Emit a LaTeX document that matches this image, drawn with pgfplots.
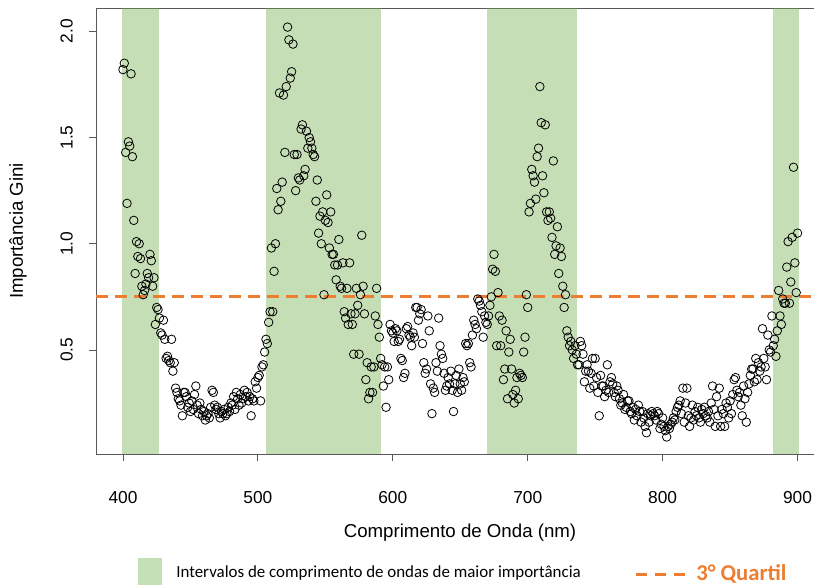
\documentclass[border=0pt]{standalone}
\usepackage{pgfplots}
\pgfplotsset{compat=1.18}
\usepackage{pgfplotstable}
\usepackage{fontspec}
\setmainfont{Liberation Sans}
\newfontfamily\calibri{Carlito}
\definecolor{bandgreen}{RGB}{112,173,71}
\definecolor{legendgreen}{RGB}{197,224,180}
\definecolor{qorange}{RGB}{237,125,49}

\pgfplotstableread{
x y
400 1.82
401 1.85
402 1.43
403 1.19
404 1.48
405 1.46
406 1.80
407 1.41
408 1.11
409 0.86
410 1.01
411 0.94
412 1.00
413 0.93
414 0.80
415 0.76
416 0.78
417 0.81
418 0.86
419 0.84
420 0.95
421 0.92
422 0.80
423 0.84
424 0.62
425 0.70
426 0.69
427 0.65
428 0.58
429 0.57
430 0.64
431 0.55
432 0.46
433 0.47
434 0.45
435 0.44
436 0.55
437 0.40
438 0.44
439 0.32
440 0.30
441 0.27
442 0.26
443 0.24
444 0.19
445 0.30
446 0.30
447 0.28
448 0.23
449 0.25
450 0.21
451 0.26
452 0.22
453 0.29
454 0.33
455 0.24
456 0.20
457 0.25
458 0.22
459 0.19
460 0.21
461 0.17
462 0.19
463 0.20
464 0.18
465 0.23
466 0.31
467 0.30
468 0.24
469 0.22
470 0.23
471 0.20
472 0.18
473 0.21
474 0.20
475 0.22
476 0.19
477 0.20
478 0.23
479 0.21
480 0.25
481 0.24
482 0.28
483 0.22
484 0.30
485 0.27
486 0.24
487 0.29
488 0.25
489 0.27
490 0.31
491 0.28
492 0.30
493 0.26
494 0.28
495 0.19
496 0.27
497 0.26
498 0.35
499 0.32
500 0.37
501 0.38
502 0.26
503 0.42
504 0.43
505 0.49
506 0.55
507 0.53
508 0.63
509 0.68
510 0.98
511 0.68
512 0.87
513 1.00
514 1.26
515 1.16
516 1.71
517 1.20
518 1.29
519 1.70
520 1.43
521 1.74
522 2.02
523 1.96
524 1.78
525 1.81
526 1.94
527 1.42
528 1.25
529 1.42
530 1.31
531 1.30
532 1.54
533 1.56
534 1.32
535 1.35
536 1.53
537 1.45
538 1.50
539 1.48
540 1.45
541 1.42
542 1.41
543 1.20
544 1.30
545 1.05
546 1.13
547 1.00
548 1.15
549 0.76
550 1.11
551 1.23
552 1.10
553 0.98
554 1.15
555 0.95
556 0.95
557 0.90
558 0.83
559 0.90
560 1.02
561 0.80
562 0.79
563 0.91
564 0.68
565 0.65
566 0.79
567 0.62
568 0.91
569 0.67
570 0.62
571 0.48
572 0.67
573 0.79
574 0.71
575 0.48
576 0.76
577 1.04
578 0.80
579 0.67
580 0.36
581 0.44
582 0.27
583 0.30
584 0.42
585 0.30
586 0.42
587 0.66
588 0.79
589 0.62
590 0.56
591 0.46
592 0.43
593 0.33
594 0.42
595 0.23
596 0.42
597 0.36
598 0.62
599 0.59
600 0.58
601 0.54
602 0.60
603 0.59
604 0.54
605 0.55
606 0.46
607 0.45
608 0.37
609 0.39
610 0.60
611 0.61
612 0.57
613 0.56
614 0.52
615 0.58
616 0.56
617 0.70
618 0.70
619 0.64
620 0.67
621 0.69
622 0.53
623 0.44
624 0.39
625 0.41
626 0.66
627 0.59
628 0.34
629 0.20
630 0.32
631 0.30
632 0.44
633 0.40
634 0.65
635 0.52
636 0.48
637 0.46
638 0.39
639 0.31
640 0.33
641 0.37
642 0.34
643 0.40
644 0.31
645 0.21
646 0.34
647 0.38
648 0.30
649 0.41
650 0.34
651 0.31
652 0.37
653 0.35
654 0.53
655 0.52
656 0.53
657 0.44
658 0.42
659 0.57
660 0.64
661 0.62
662 0.60
663 0.74
664 0.73
665 0.71
666 0.68
667 0.56
668 0.66
669 0.63
670 0.62
671 0.66
672 0.71
673 0.75
674 0.88
675 0.95
676 0.87
677 0.52
678 0.77
679 0.66
680 0.52
681 0.64
682 0.36
683 0.41
684 0.59
685 0.27
686 0.49
687 0.55
688 0.41
689 0.29
690 0.25
691 0.31
692 0.37
693 0.27
694 0.39
695 0.38
696 0.37
697 0.49
698 0.56
699 0.76
700 0.70
701 1.15
702 1.19
703 1.35
704 1.32
705 1.29
706 1.21
707 1.41
708 1.45
709 1.74
710 1.57
711 1.32
712 1.24
713 1.56
714 1.15
715 1.11
716 1.15
717 1.12
718 1.03
719 1.39
720 0.95
721 0.99
722 1.08
723 0.86
724 0.98
725 0.94
726 0.80
727 0.70
728 0.76
729 0.59
730 0.56
731 0.52
732 0.54
733 0.50
734 0.46
735 0.52
736 0.48
737 0.43
738 0.43
739 0.54
740 0.52
741 0.48
742 0.35
743 0.40
744 0.43
745 0.40
746 0.32
747 0.39
748 0.46
749 0.33
750 0.46
751 0.37
752 0.30
753 0.19
754 0.38
755 0.33
756 0.33
757 0.28
758 0.31
759 0.43
760 0.30
761 0.35
762 0.37
763 0.34
764 0.30
765 0.28
766 0.33
767 0.31
768 0.27
769 0.24
770 0.25
771 0.29
772 0.22
773 0.23
774 0.26
775 0.26
776 0.21
777 0.20
778 0.23
779 0.17
780 0.22
781 0.19
782 0.24
783 0.21
784 0.16
785 0.21
786 0.18
787 0.14
788 0.11
789 0.20
790 0.16
791 0.19
792 0.21
793 0.20
794 0.19
795 0.17
796 0.21
797 0.20
798 0.13
799 0.15
800 0.18
801 0.14
802 0.12
803 0.09
804 0.14
805 0.13
806 0.15
807 0.16
808 0.18
809 0.17
810 0.21
811 0.23
812 0.24
813 0.26
814 0.20
815 0.32
816 0.16
817 0.25
818 0.32
819 0.19
820 0.14
821 0.18
822 0.24
823 0.17
824 0.21
825 0.19
826 0.23
827 0.18
828 0.16
829 0.22
830 0.20
831 0.23
832 0.19
833 0.18
834 0.21
835 0.16
836 0.25
837 0.33
838 0.22
839 0.14
840 0.28
841 0.19
842 0.32
843 0.14
844 0.22
845 0.20
846 0.14
847 0.25
848 0.23
849 0.18
850 0.26
851 0.20
852 0.29
853 0.36
854 0.37
855 0.31
856 0.28
857 0.30
858 0.24
859 0.19
860 0.33
861 0.27
862 0.16
863 0.30
864 0.34
865 0.38
866 0.41
867 0.41
868 0.35
869 0.46
870 0.36
871 0.44
872 0.40
873 0.42
874 0.60
875 0.46
876 0.42
877 0.36
878 0.57
879 0.50
880 0.49
881 0.66
882 0.52
883 0.55
884 0.47
885 0.59
886 0.78
887 0.66
888 0.62
889 0.74
890 0.72
891 0.72
892 0.89
893 1.01
894 0.72
895 0.82
896 1.03
897 1.36
898 0.91
899 0.77
900 1.05
}\gini

\begin{document}
\begin{tikzpicture}
\begin{axis}[
  scale only axis, width=538.5pt, height=334.5pt,
  xmin=380, xmax=912.2, ymin=0.01, ymax=2.11,
  axis x line*=box, axis y line*=left,
  axis line style={-, black!65, line width=0.6pt},
  xtick={400,500,600,700,800,900},
  ytick={0.5,1,1.5,2}, yticklabels={0.5,1.0,1.5,2.0},
  xtick pos=lower, ytick pos=lower,
  tick align=outside, major tick length=5.25pt,
  tick style={black!65, line width=0.6pt},
  /pgf/number format/assume math mode=true,
  /pgf/number format/1000 sep={},
  tick label style={font=\fontsize{13pt}{15pt}\selectfont, inner sep=0pt},
  xticklabel style={anchor=north},
  yticklabel style={rotate=90, anchor=south},
  xticklabel shift=22.5pt,
  yticklabel shift=12pt,
  xlabel={Comprimento de Onda (nm)},
  ylabel={Importância Gini},
  label style={font=\fontsize{14pt}{17pt}\selectfont},
  xlabel style={at={(axis description cs:0.507,-0.177)}, anchor=center},
  ylabel style={at={(axis description cs:-0.1086,0.5)}, anchor=center},
]
\addplot[only marks, mark=o, mark size=3.2pt, mark options={line width=0.6pt, black}] table {\gini};
\fill[bandgreen, opacity=0.4] (axis cs:399.2,0.01) rectangle (axis cs:426.8,2.11);
\fill[bandgreen, opacity=0.4] (axis cs:506,0.01) rectangle (axis cs:591,2.11);
\fill[bandgreen, opacity=0.4] (axis cs:670,0.01) rectangle (axis cs:736.5,2.11);
\fill[bandgreen, opacity=0.4] (axis cs:882,0.01) rectangle (axis cs:901,2.11);
\draw[qorange, line width=2.25pt, dash pattern=on 9pt off 5.25pt] (axis cs:380,0.753) -- (axis cs:912.2,0.753);
\coordinate (O) at (rel axis cs:0,0);
\end{axis}
\begin{scope}[shift={(O)}, x=0.75pt, y=-0.75pt]
  \fill[legendgreen] (42,104) rectangle (66,131);
  \node[anchor=west, inner sep=0pt, font=\calibri\fontsize{12.7pt}{15pt}\selectfont] at (80,119) {Intervalos de comprimento de ondas de maior importância};
  \draw[qorange, line width=2.25pt, dash pattern=on 8.25pt off 6pt] (540,121) -- (592,121);
  \node[anchor=west, inner sep=0pt, text=qorange, font=\calibri\bfseries\fontsize{17pt}{20pt}\selectfont] at (600,120) {3° Quartil};
  \pgfresetboundingbox
  \path[use as bounding box] (-96,-454) rectangle (718,131);
\end{scope}
\end{tikzpicture}
\end{document}
